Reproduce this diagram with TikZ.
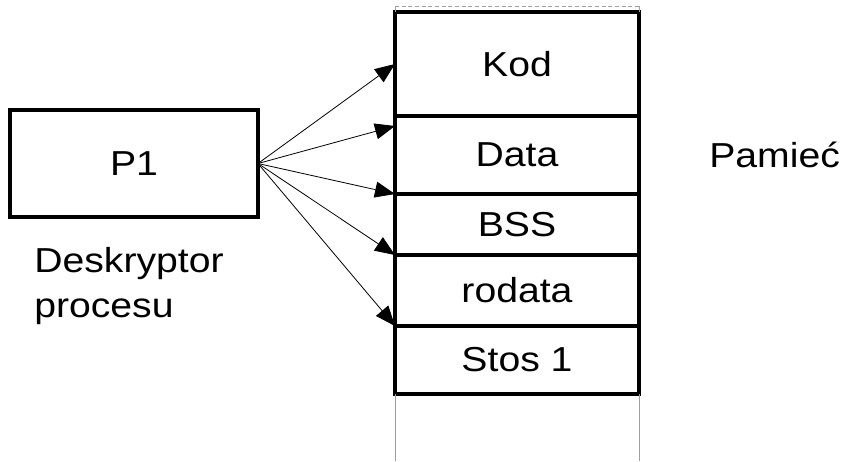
\documentclass[tikz,border=0pt]{standalone}
\usepackage{fontspec}
\setmainfont{Liberation Sans}[FakeStretch=1.13]
\usetikzlibrary{arrows.meta,positioning,calc}

\begin{document}
\begin{tikzpicture}[
        x=0.75pt, y=-0.75pt,
        segBox/.style={
            draw=black,
            line width=3pt,
            minimum width=183pt,
            inner sep=0pt,
            outer sep=0pt,
            font=\fontsize{26}{30}\selectfont
        },
        descBox/.style={
            draw=black,
            line width=3pt,
            minimum width=186pt,
            minimum height=80.25pt,
            inner sep=0pt,
            outer sep=0pt,
            font=\fontsize{26}{30}\selectfont
        },
        label/.style={
            inner sep=0pt,
            align=left,
            font=\fontsize{26}{33.75}\selectfont
        },
        pointer/.style={
            line width=0.6pt,
            -{Triangle[length=15pt,width=12pt]}
        },
        memEdge/.style={
            draw=gray!75,
            line width=0.75pt
        }
    ]

        \useasboundingbox (0,0) rectangle (841,461);

        % Process descriptor
        \node[descBox] (p1) at (134,163.5) {P1};
        \node[label, anchor=north west] (descLabel) at (34,247)
            {Deskryptor\\procesu};

        % Memory segments
        \node[segBox, minimum height=78pt] (kod) at (517,64) {Kod};
        \node[
            segBox,
            minimum height=58.5pt,
            below=0pt of kod
        ] (data) {Data};
        \node[
            segBox,
            minimum height=45.75pt,
            below=0pt of data
        ] (bss) {BSS};
        \node[
            segBox,
            minimum height=53.25pt,
            below=0pt of bss
        ] (rodata) {rodata};
        \node[
            segBox,
            minimum height=51pt,
            below=0pt of rodata
        ] (stos) {Stos 1};

        \node[label, anchor=base west] (memLabel) at (709,167) {Pamieć};

        % Open ends of the memory column
        \coordinate (memTopL) at ($(kod.north west)+(0,-6)$);
        \coordinate (memTopR) at ($(kod.north east)+(0,-6)$);
        \coordinate (memBotL) at (stos.south west |- 0,461);
        \coordinate (memBotR) at (stos.south east |- 0,461);

        \draw[memEdge] (kod.north west) -- (memTopL);
        \draw[memEdge, densely dashed] (memTopL) -- (memTopR);
        \draw[memEdge] (memTopR) -- (kod.north east);
        \draw[memEdge] (stos.south west) -- (memBotL);
        \draw[memEdge] (stos.south east) -- (memBotR);

        % Pointers
        \coordinate (dataTop) at ($(data.north west)+(0,10)$);

        \draw[pointer] (p1.east) -- (kod.west);
        \draw[pointer] (p1.east) -- (dataTop);
        \draw[pointer] (p1.east) -- (data.south west);
        \draw[pointer] (p1.east) -- (bss.south west);
        \draw[pointer] (p1.east) -- (rodata.south west);

    \end{tikzpicture}
\end{document}
